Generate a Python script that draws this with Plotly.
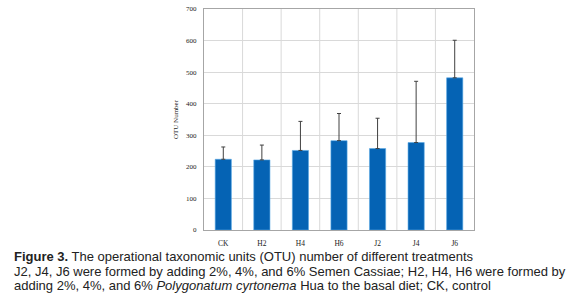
import plotly.graph_objects as go

categories = ["CK", "H2", "H4", "H6", "J2", "J4", "J6"]
otu_means = [224, 222, 252, 283, 258, 277, 482]
otu_err_plus = [39, 47, 92, 86, 96, 194, 119]
y_ticks = [0, 100, 200, 300, 400, 500, 600, 700]

L, R, T, B = 204, 106, 5, 72
W, H = 580, 302
pw = W - L - R
ph = H - T - B

fig = go.Figure()
fig.add_trace(go.Bar(
    x=categories, y=otu_means, width=0.42,
    marker=dict(color="#0563B4", line=dict(color="#5AA9E6", width=0.6)),
    error_y=dict(type="data", symmetric=False, array=otu_err_plus,
                 arrayminus=[0] * len(otu_means),
                 color="#404040", thickness=1, width=2),
))

shapes = []
for i in range(1, len(categories)):
    shapes.append(dict(type="line", xref="x", yref="paper", x0=i - 0.5, x1=i - 0.5,
                       y0=0, y1=1, line=dict(color="#d9d9d9", width=1), layer="below"))

def px(xp):
    return (xp - L) / pw

def py(yp):
    return (H - B - yp) / ph

caption_font = dict(family="Liberation Sans, Arial", size=13, color="#222222")
lines = [
    "<b>Figure 3.</b> The operational taxonomic units (OTU) number of different treatments",
    "J2, J4, J6 were formed by adding 2%, 4%, and 6% Semen Cassiae; H2, H4, H6 were formed by",
    "adding 2%, 4%, and 6% <i>Polygonatum cyrtonema</i> Hua to the basal diet; CK, control",
]
ys = [257, 272, 287]
annotations = []
for t, yy in zip(lines, ys):
    annotations.append(dict(text=t, xref="paper", yref="paper", x=px(12), y=py(yy),
                            xanchor="left", yanchor="middle", showarrow=False,
                            font=caption_font, align="left"))

fig.update_layout(
    width=W, height=H, margin=dict(l=L, r=R, t=T, b=B, pad=0),
    paper_bgcolor="white", plot_bgcolor="white",
    showlegend=False, shapes=shapes, annotations=annotations,
    xaxis=dict(type="category", showgrid=False, showline=True, linecolor="#a6a6a6",
               mirror=True, ticks="outside", ticklen=6, tickcolor="rgba(0,0,0,0)",
               tickfont=dict(family="Liberation Serif", size=7.5, color="#222"),
               range=[-0.5, len(categories) - 0.5]),
    yaxis=dict(range=[0, 700], tickvals=y_ticks, showgrid=True, gridcolor="#d9d9d9",
               showline=True, linecolor="#a6a6a6", mirror=True, ticks="outside",
               ticklen=5, tickcolor="rgba(0,0,0,0)",
               tickfont=dict(family="Liberation Serif", size=7, color="#222"),
               title=dict(text="OTU Number", font=dict(family="Liberation Serif", size=7, color="#222"),
                          standoff=6),
               zeroline=False),
)

fig.write_html("out.html", config={"displayModeBar": False},
               post_script="document.body.style.margin='0';")
